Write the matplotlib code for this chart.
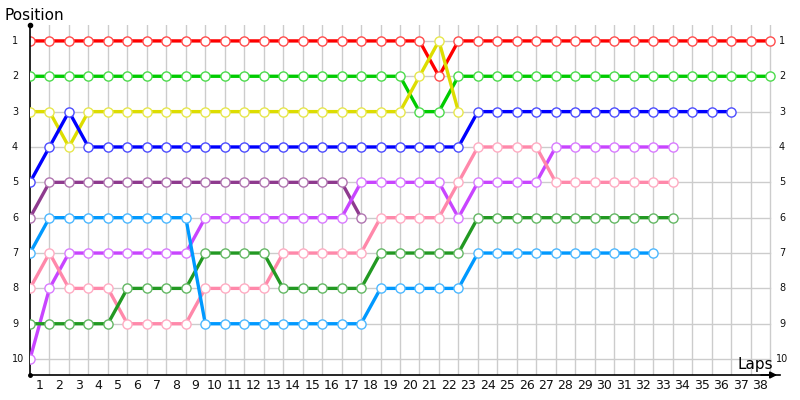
import matplotlib
matplotlib.use("Agg")
import matplotlib.pyplot as plt
import numpy as np

# Data: position per lap (lap 0 = start)
red =        [1]*21 + [2] + [1]*17                      # laps 0..38
green =      [2]*20 + [3, 3] + [2]*17                   # laps 0..38
yellow =     [3, 3, 4] + [3]*17 + [2, 1, 3]             # laps 0..22
blue =       [5, 4, 3] + [4]*20 + [3]*14                # laps 0..36
purple =     [6] + [5]*16 + [6]                         # laps 0..17
violet =     [10, 8] + [7]*7 + [6]*8 + [5]*5 + [6] + [5]*4 + [4]*7   # laps 0..33
pink =       [8, 7, 8, 8, 8] + [9]*4 + [8]*4 + [7]*5 + [6]*4 + [5] + [4]*4 + [5]*7  # 0..33
darkgreen =  [9]*5 + [8]*4 + [7]*4 + [8]*5 + [7]*5 + [6]*11   # laps 0..33
lightblue =  [7] + [6]*8 + [9]*9 + [8]*5 + [7]*10       # laps 0..32

series = [
    (red, "#FF0000"),
    (green, "#00CC00"),
    (yellow, "#DDDD00"),
    (blue, "#0000FF"),
    (purple, "#8E3A8E"),
    (violet, "#C844FF"),
    (pink, "#FF88AA"),
    (darkgreen, "#229922"),
    (lightblue, "#0099FF"),
]

n_laps = 38
positions = list(range(1, 11))
lap_labels = [str(i) for i in range(1, n_laps + 1)]

fig = plt.figure(figsize=(8, 4), dpi=100)
px = 1 / 19.47
ax = fig.add_axes([30 / 800, 25 / 400, 750 / 800, 350 / 400])
ax.set_xlim(0, n_laps + 10 * px)
ax.set_ylim(10.45, 0.55)

# grid
for k in range(1, n_laps + 1):
    ax.plot([k, k], [10.45, 0.55], color="#CCCCCC", lw=1, zorder=0)
for p in positions:
    ax.plot([0, n_laps], [p, p], color="#CCCCCC", lw=1, zorder=0)


def lighten(c, f=0.3):
    c = np.array(matplotlib.colors.to_rgb(c))
    return tuple(c + (1 - c) * f)


for i, (vals, col) in enumerate(series):
    laps = np.arange(len(vals))
    ax.plot(laps, vals, color=col, lw=2.4, zorder=2 + i,
            marker="o", markersize=6.6, markerfacecolor="white",
            markeredgecolor=lighten(col), markeredgewidth=1.0,
            solid_joinstyle="round")

# axes spines
for s in ["top", "right"]:
    ax.spines[s].set_visible(False)
ax.spines["left"].set_color("black")
ax.spines["bottom"].set_color("black")
ax.spines["left"].set_linewidth(1.2)
ax.spines["bottom"].set_linewidth(1.2)
ax.set_xticks([])
ax.set_yticks([])

# arrow at end of x axis
ax.annotate("", xy=(n_laps + 10 * px, 10.45), xytext=(n_laps - 0.6, 10.45),
            arrowprops=dict(arrowstyle="-|>", color="black", lw=1.2,
                            mutation_scale=10), annotation_clip=False)
ax.plot([0], [0.55], marker="o", color="black", markersize=3, clip_on=False, zorder=20)
ax.plot([0], [10.45], marker="o", color="black", markersize=2.5, clip_on=False, zorder=20)

# x tick labels (centred between grid lines)
for k, lab in enumerate(lap_labels, start=1):
    ax.text(k - 0.5, 10.45 + 0.3, lab, ha="center", va="center",
            fontsize=9, color="#111111", clip_on=False)

# left and right position labels
for p in positions:
    ax.text(-18 * px, p, str(p), ha="left", va="center", fontsize=7,
            color="#111111", clip_on=False)
    ax.text(n_laps + 12 * px, p, str(p), ha="center", va="center", fontsize=7,
            color="#111111", clip_on=False)

fig.text(5 / 800, 1 - 15 / 400, "Position", ha="left", va="center", fontsize=11)
fig.text(773 / 800, 1 - 365 / 400, "Laps", ha="right", va="center", fontsize=11)

fig.savefig("out.png", dpi=100)
